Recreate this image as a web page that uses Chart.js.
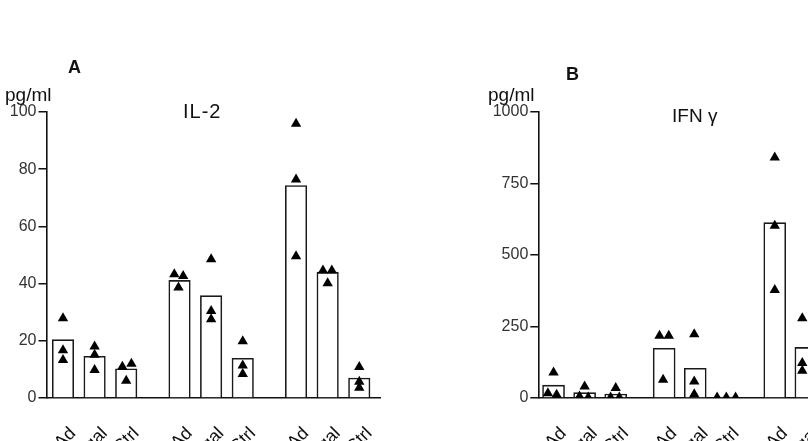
<!DOCTYPE html>
<html><head><meta charset="utf-8">
<script src="https://cdn.jsdelivr.net/npm/chart.js@4/dist/chart.umd.min.js"></script>
<style>
html,body{margin:0;padding:0;background:#fff;}
body{width:808px;height:441px;overflow:hidden;position:relative;}
canvas{position:absolute;top:0;}
</style></head><body>
<canvas id="ca" width="410" height="490" style="left:0"></canvas>
<canvas id="cb" width="440" height="490" style="left:470px"></canvas>
<script>
// ---- data ----
const treatments = ["IL-12 Ad", "Adβgal", "Ctrl"];

const il2Bars = [20.4, 14.6, 10.2, 41.1, 35.8, 13.9, 74.3, 44.0, 7.0];
const il2Points = [
  [27.9, 16.7, 13.3], [18.0, 15.1, 9.8], [10.9, 12.0, 6.0],
  [43.3, 42.7, 38.6], [48.5, 30.4, 27.5], [19.8, 11.4, 8.4],
  [95.9, 76.4, 49.6], [44.6, 44.6, 40.1], [10.8, 5.7, 3.6]
];
const il2Ticks = [0, 20, 40, 60, 80, 100];

const ifnBars = [45, 18.6, 14, 174, 104, 3, 613, 177, 4];
const ifnPoints = [
  [89, 17, 11], [40, 5.5, 2], [35, 2, 2],
  [218, 218, 64], [223, 58, 13], [2, 2, 2],
  [841, 602, 378], [279, 122, 95], [5, 3, 2]
];
const ifnTicks = [0, 250, 500, 750, 1000];

// side-by-side spread of overlapping markers (in marker widths)
const il2Spread = [
  [0,0,0],[0,0,0],[-0.37,0.5,0],
  [-0.5,0.35,-0.1],[0,0,0],[0,0,0],
  [0,0,0],[-0.45,0.4,0],[0,0,0]
];
const ifnSpread = [
  [0,-0.55,0.3],[0,-0.5,0.35],[0,-0.5,0.35],
  [-0.45,0.45,-0.1],[-0.1,-0.1,-0.1],[-0.9,0,0.9],
  [0,0,0],[-0.35,-0.35,-0.35],[-0.9,0,0.9]
];

// ---- chart builder ----
function build(id, cfg) {
  const n = cfg.bars.length;
  const k = treatments.length;
  const pos = [];
  for (let i = 0; i < n; i++) pos.push(Math.floor(i / k) * cfg.groupStep + (i % k));
  const barData = cfg.bars.map((v, i) => ({x: pos[i], y: v}));
  const ptData = [];
  cfg.points.forEach((arr, i) => arr.forEach((v, j) => ptData.push({x: pos[i] + cfg.spread[i][j] * 0.33, y: v})));
  const font = "'Liberation Sans', Arial, sans-serif";

  const textPlugin = {
    id: 'panelText',
    afterDraw(chart) {
      const c = chart.ctx;
      c.save();
      c.fillStyle = '#111';
      c.textBaseline = 'alphabetic';
      c.textAlign = 'left';
      c.font = 'bold 18px ' + font;
      c.fillText(cfg.letter, cfg.letterXY[0], cfg.letterXY[1]);
      c.font = '19px ' + font;
      c.fillText('pg/ml', cfg.unitXY[0], cfg.unitXY[1]);
      c.font = cfg.titleSize + 'px ' + font;
      try { c.letterSpacing = cfg.titleSpacing; } catch (e) {}
      c.fillText(cfg.title, cfg.titleXY[0], cfg.titleXY[1]);
      c.restore();
    }
  };

  return new Chart(document.getElementById(id), {
    type: 'bar',
    data: {
      datasets: [
        {type: 'scatter', data: ptData, order: 1, pointStyle: 'triangle', pointRadius: 6,
         pointHoverRadius: 6, pointBackgroundColor: '#000', pointBorderWidth: 0, showLine: false},
        {type: 'bar', data: barData, order: 2, backgroundColor: '#fff', borderColor: '#1a1a1a',
         borderWidth: 1.6, barThickness: cfg.barW}
      ]
    },
    options: {
      responsive: false, animation: false, devicePixelRatio: 1,
      layout: {padding: {left: 0, top: 112, right: cfg.padRight, bottom: 0}},
      plugins: {legend: {display: false}, tooltip: {enabled: false}},
      scales: {
        x: {
          type: 'linear', offset: false, min: cfg.xMin, max: cfg.xMax,
          grid: {display: false, offset: false},
          border: {display: true, color: '#111', width: 1.6},
          afterBuildTicks: s => { s.ticks = pos.map(v => ({value: v})); },
          afterFit: s => { s.height = 490 - 398; s.paddingLeft = 0; s.paddingRight = 0; },
          ticks: {
            autoSkip: false, minRotation: 45, maxRotation: 45, padding: 17, labelOffset: 10,
            color: '#111', font: {family: font, size: 18},
            callback: (v, i) => treatments[i % k]
          }
        },
        y: {
          min: 0, max: cfg.yMax,
          afterBuildTicks: s => { s.ticks = cfg.ticks.map(v => ({value: v})); },
          afterFit: s => { s.width = cfg.axisX; },
          grid: {drawOnChartArea: false, drawTicks: true, tickLength: 8, color: '#111', lineWidth: 1.5},
          border: {display: true, color: '#111', width: 1.6},
          ticks: {padding: 2, color: '#333', font: {family: font, size: 16}, callback: v => String(v)}
        }
      }
    },
    plugins: [textPlugin]
  });
}

build('ca', {
  bars: il2Bars, points: il2Points, spread: il2Spread, ticks: il2Ticks, yMax: 100,
  groupStep: 3.687, xMin: -0.522, xMax: 10.03, axisX: 46.5, padRight: 30, barW: 21.5,
  letter: 'A', letterXY: [68, 73], unitXY: [5, 101], title: 'IL-2', titleSize: 20, titleSpacing: '1px', titleXY: [183, 118]
});
build('cb', {
  bars: ifnBars, points: ifnPoints, spread: ifnSpread, ticks: ifnTicks, yMax: 1000,
  groupStep: 3.557, xMin: -0.49, xMax: 11.27, axisX: 68.3, padRight: 0, barW: 22,
  letter: 'B', letterXY: [96, 80], unitXY: [18, 101], title: 'IFN γ', titleSize: 19, titleSpacing: '0px', titleXY: [202, 122]
});
</script>
</body></html>
